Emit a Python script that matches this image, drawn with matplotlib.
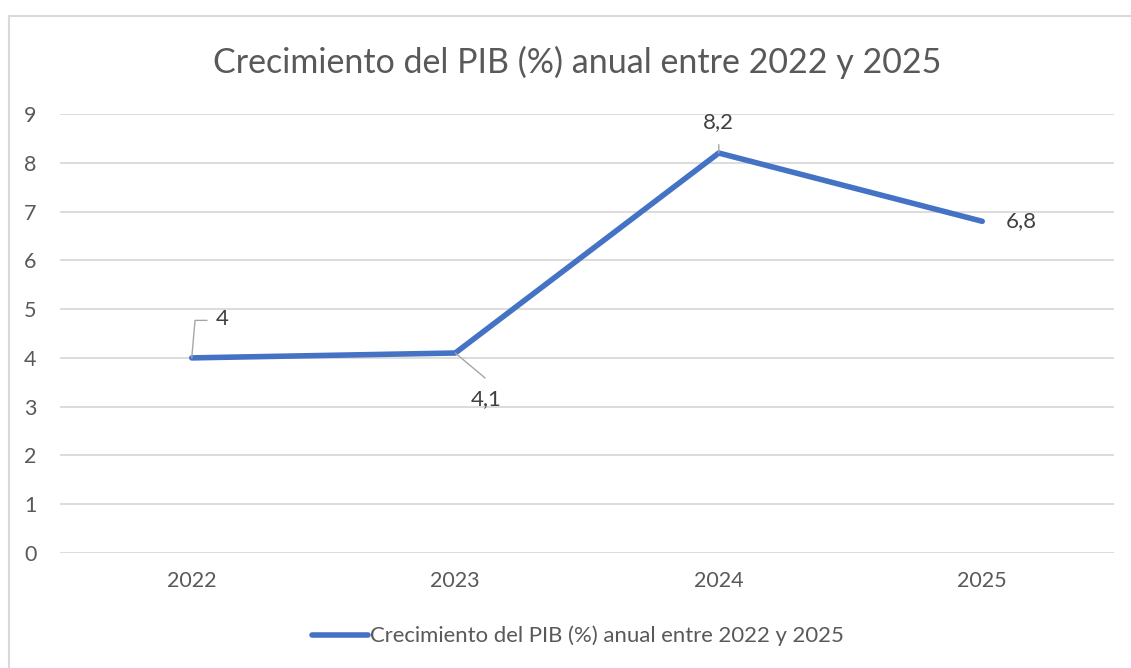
import matplotlib
matplotlib.use("Agg")
import matplotlib.pyplot as plt
from matplotlib.lines import Line2D

years = ["2022", "2023", "2024", "2025"]
growth = [4.0, 4.1, 8.2, 6.8]
labels = ["4", "4,1", "8,2", "6,8"]
title = "Crecimiento del PIB (%) anual entre 2022 y 2025"
yticks = list(range(0, 10))

FONT = ["Lato", "DejaVu Sans"]
TXT = "#595959"
BLUE = "#4472C4"
GRID = "#D9D9D9"

W, H = 1131, 668
fig = plt.figure(figsize=(W / 100, H / 100), dpi=100)
ax = fig.add_axes([60 / W, 1 - 553 / H, (1114 - 60) / W, (553 - 114) / H])

x = list(range(len(years)))
ax.plot(x, growth, color=BLUE, lw=4.0, solid_capstyle="round", zorder=3)
ax.set_xlim(-0.5, len(years) - 0.5)
ax.set_ylim(0, 9)
ax.set_yticks(yticks)
ax.set_xticks(x)
ax.set_xticklabels(years)
for s in ax.spines.values():
    s.set_visible(False)
ax.grid(axis="y", color=GRID, lw=1.3)
ax.set_axisbelow(True)
ax.tick_params(length=0, labelsize=15.5, labelcolor=TXT)
ax.tick_params(axis="y", pad=17)
ax.tick_params(axis="x", pad=13)
for t in ax.get_xticklabels() + ax.get_yticklabels():
    t.set_family(FONT)

# data labels with leader lines (offsets in points)
offsets = [(22, 28), (22, -33), (0, 22), (28, 0)]
for i, (v, lab, off) in enumerate(zip(growth, labels, offsets)):
    ax.annotate(lab, (i, v), xytext=off, textcoords="offset points",
                ha="center", va="center", fontsize=16, color="#404040",
                family=FONT, zorder=4)
lw_l = 1.0
c_l = "#A6A6A6"
ax.annotate("", (0, growth[0]), xytext=(11, 27), textcoords="offset points",
            arrowprops=dict(arrowstyle="-", color=c_l, lw=lw_l, shrinkA=0, shrinkB=0,
                            connectionstyle="angle,angleA=0,angleB=85,rad=0"))
ax.annotate("", (1, growth[1]), xytext=(21.5, -18), textcoords="offset points",
            arrowprops=dict(arrowstyle="-", color=c_l, lw=lw_l, shrinkA=0, shrinkB=0))
ax.annotate("", (2, growth[2]), xytext=(0, 6), textcoords="offset points",
            arrowprops=dict(arrowstyle="-", color=c_l, lw=lw_l, shrinkA=0, shrinkB=0))

fig.text(577 / W, 1 - 62 / H, title, ha="center", va="center", fontsize=24.5,
         color=TXT, family=FONT)

handle = Line2D([0], [0], color=BLUE, lw=4.0, solid_capstyle="round")
leg = fig.legend([handle], [title], loc="center", bbox_to_anchor=(578 / W, 1 - 636 / H),
                 frameon=False, handlelength=2.5, handletextpad=0.1,
                 prop={"family": FONT, "size": 15.9})
for t in leg.get_texts():
    t.set_color(TXT)

fig.add_artist(Line2D([8.5 / W, 8.5 / W], [0, 1 - 15.5 / H], transform=fig.transFigure,
                      color=GRID, lw=1.5))
fig.add_artist(Line2D([8.5 / W, 1], [1 - 15.5 / H, 1 - 15.5 / H], transform=fig.transFigure,
                      color=GRID, lw=1.5))

fig.savefig("out.png", dpi=100, facecolor="white")
